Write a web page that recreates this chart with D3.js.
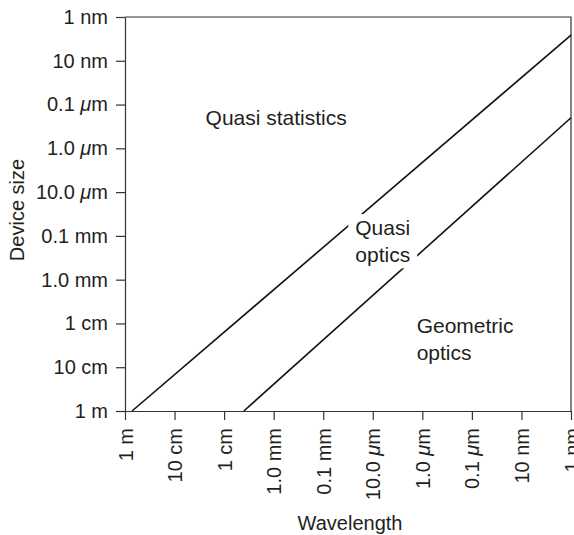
<!DOCTYPE html>
<html>
<head>
<meta charset="utf-8" />
<style>
  body { margin: 0; background: #fff; }
  text { font-family: "Liberation Sans", Arial, sans-serif; fill: #231f20; }
</style>
</head>
<body>
<script src="https://d3js.org/d3.v7.min.js"></script>
<script>
// tick values (metres) and their labels
var tickValues = [1, 1e-1, 1e-2, 1e-3, 1e-4, 1e-5, 1e-6, 1e-7, 1e-8, 1e-9];
var tickLabels = ["1 m", "10 cm", "1 cm", "1.0 mm", "0.1 mm", "10.0 \u03bcm", "1.0 \u03bcm", "0.1 \u03bcm", "10 nm", "1 nm"];

// boundary lines: [wavelength, device size] in metres
var upperBoundary = [[0.72, 1], [1e-9, 2.6e-9]];
var lowerBoundary = [[0.004, 1], [1e-9, 2.0e-7]];

// region labels
var regions = [
  { lines: ["Quasi statistics"], wl: 8.9e-4, size: 2.0e-7, mask: false },
  { lines: ["Quasi", "optics"], wl: 6.3e-6, size: 6.5e-5, mask: true },
  { lines: ["Geometric", "optics"], wl: 1.3e-6, size: 1.1e-2, mask: false, anchor: "start" }
];

var width = 574, height = 535;
var pLeft = 125, pRight = 571, pTop = 17, pBottom = 411;
var fs = 20;

var svg = d3.select("body").append("svg")
  .attr("width", width)
  .attr("height", height);

var x = d3.scaleLog().domain([1, 1e-9]).range([pLeft, pRight]);
var y = d3.scaleLog().domain([1, 1e-9]).range([pBottom, pTop]);

// frame top/right
svg.append("path")
  .attr("d", "M" + pLeft + "," + pTop + "H" + pRight + "V" + pBottom)
  .attr("fill", "none")
  .attr("stroke", "#333")
  .attr("stroke-width", 1.2);

function fmt(g) {
  g.selectAll(".tick text").each(function(d, i) {
    var t = d3.select(this);
    var lab = tickLabels[tickValues.indexOf(d)];
    t.text(null);
    var parts = lab.split("\u03bc");
    t.append("tspan").text(parts[0]);
    if (parts.length > 1) {
      t.append("tspan").attr("font-style", "italic").text("\u03bc");
      t.append("tspan").text(parts[1]);
    }
  });
  g.selectAll("text").attr("font-size", fs).attr("fill", "#231f20");
  g.selectAll("line").attr("stroke", "#333").attr("stroke-width", 1.2);
  g.select(".domain").attr("stroke", "#333").attr("stroke-width", 1.2);
}

var yAxis = svg.append("g")
  .attr("transform", "translate(" + pLeft + ",0)")
  .call(d3.axisLeft(y).tickValues(tickValues).tickSize(9).tickSizeOuter(0).tickPadding(8))
  .call(fmt);

var xAxis = svg.append("g")
  .attr("transform", "translate(0," + pBottom + ")")
  .call(d3.axisBottom(x).tickValues(tickValues).tickSize(9).tickSizeOuter(0))
  .call(fmt);

xAxis.selectAll(".tick text")
  .attr("transform", "rotate(-90)")
  .attr("x", -17)
  .attr("y", 0)
  .attr("dy", "0.35em")
  .attr("text-anchor", "end");

var line = d3.line()
  .x(function(d) { return x(d[0]); })
  .y(function(d) { return y(d[1]); });

[upperBoundary, lowerBoundary].forEach(function(b) {
  svg.append("path")
    .datum(b)
    .attr("d", line)
    .attr("fill", "none")
    .attr("stroke", "#111")
    .attr("stroke-width", 1.6);
});

regions.forEach(function(r) {
  var g = svg.append("g");
  var t = g.append("text")
    .attr("x", x(r.wl))
    .attr("y", y(r.size))
    .attr("font-size", 21)
    .attr("text-anchor", r.anchor || "middle");
  r.lines.forEach(function(s, i) {
    t.append("tspan")
      .attr("x", x(r.wl))
      .attr("dy", i === 0 ? "0.35em" : "1.3em")
      .text(s);
  });
  if (r.mask) {
    var bb = t.node().getBBox();
    g.insert("rect", "text")
      .attr("x", bb.x - 7)
      .attr("y", bb.y - 2)
      .attr("width", bb.width + 14)
      .attr("height", bb.height + 4)
      .attr("fill", "#fff");
  }
});

// axis titles
svg.append("text")
  .attr("transform", "translate(24,210) rotate(-90)")
  .attr("text-anchor", "middle")
  .attr("font-size", fs)
  .text("Device size");

svg.append("text")
  .attr("x", 350)
  .attr("y", 530)
  .attr("text-anchor", "middle")
  .attr("font-size", fs)
  .text("Wavelength");
</script>
</body>
</html>
